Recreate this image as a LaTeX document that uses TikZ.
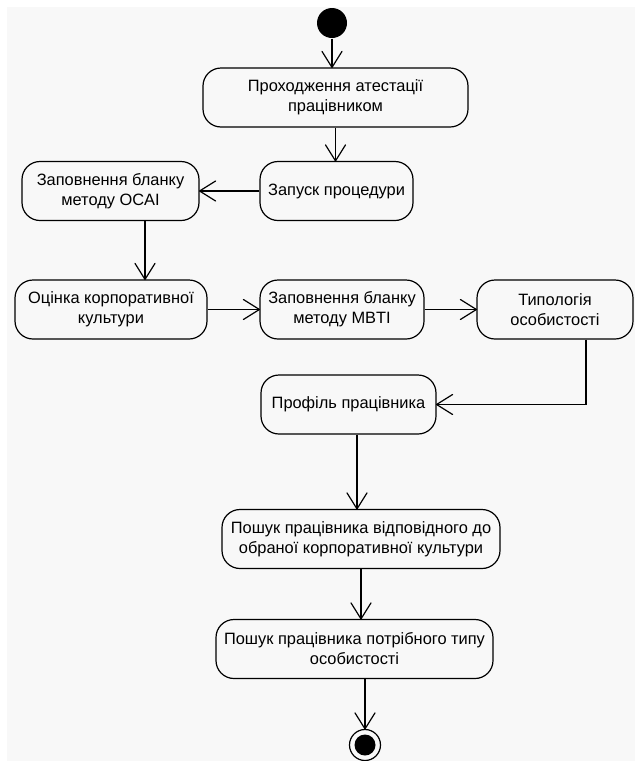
\documentclass[tikz,border=0pt]{standalone}
\usepackage{fontspec}
\setmainfont{Liberation Sans}
\usetikzlibrary{arrows.meta}
\definecolor{bggray}{HTML}{F8F8F8}

% open V arrow tip as in UML activity diagrams
\pgfdeclarearrow{
  name = OpenV,
  defaults = {length = 16pt, width = 20pt, line width = +0pt 1},
  setup code = {
    \pgfarrowssettipend{0pt}
    \pgfarrowssetlineend{-0.8pt}
    \pgfarrowssetbackend{-\pgfarrowlength}
    \pgfarrowshullpoint{0pt}{0pt}
    \pgfarrowsupperhullpoint{-\pgfarrowlength}{.5\pgfarrowwidth}
    \pgfarrowssavethe\pgfarrowlength
    \pgfarrowssavethe\pgfarrowwidth
    \pgfarrowssavethe\pgfarrowlinewidth
  },
  drawing code = {
    \pgfsetdash{}{+0pt}
    \pgfsetroundcap
    \pgfsetroundjoin
    \pgfsetlinewidth{\pgfarrowlinewidth}
    \pgfpathmoveto{\pgfqpoint{-\pgfarrowlength}{.5\pgfarrowwidth}}
    \pgfpathlineto{\pgfpointorigin}
    \pgfpathlineto{\pgfqpoint{-\pgfarrowlength}{-.5\pgfarrowwidth}}
    \pgfusepathqstroke
  },
  parameters = {\the\pgfarrowlength,\the\pgfarrowwidth,\the\pgfarrowlinewidth}
}

\begin{document}
\begin{tikzpicture}[x=1pt,y=-1pt,->,>=OpenV,line width=1.2pt,
  activity/.style={draw,rounded corners=18pt,minimum height=59pt,align=center,inner sep=0pt,font=\fontsize{16.4}{20}\selectfont},
  startstate/.style={circle,fill=black,minimum size=30pt,inner sep=0pt},
  endstate/.style={circle,draw,minimum size=31pt,inner sep=0pt,path picture={\fill[black] (path picture bounding box.center) circle (10.5pt);}}]
\useasboundingbox (0,0) rectangle (635,761);
\fill[bggray,-] (7,7) rectangle (635,761);
\node[startstate] (start) at (332,23) {};
\node[activity,minimum width=265pt] (attest) at (335.5,97.5) {Проходження атестації\\працівником};
\node[activity,minimum width=153pt] (launch) at (336.5,191) {Запуск процедури};
\node[activity,minimum width=177pt] (ocai) at (110.5,191) {Заповнення бланку\\методу OCAI};
\node[activity,minimum width=192pt] (culture) at (111,309.5) {Оцінка корпоративної\\культури};
\node[activity,minimum width=164pt] (mbti) at (342,309.5) {Заповнення бланку\\методу MBTI};
\node[activity,minimum width=156pt] (typology) at (555,309.5) {Типологія\\особистості};
\node[activity,minimum width=175pt] (profile) at (348.5,404.5) {Профіль працівника};
\node[activity,minimum width=278pt] (searchcult) at (361,539) {Пошук працівника відповідного до\\обраної корпоративної культури};
\node[activity,minimum width=277pt] (searchtype) at (354.5,649) {Пошук працівника потрібного типу\\особистості};
\node[endstate] (end) at (365,745) {};
% transitions
\draw (start) -- (start |- attest.north);
\draw (attest.south) -- (attest.south |- launch.north);
\draw (launch) -- (ocai);
\draw ([xshift=34.5pt]ocai.south) -- ([xshift=34.5pt]ocai.south |- culture.north);
\draw (culture) -- (mbti);
\draw (mbti) -- (typology);
\draw ([xshift=31pt]typology.south) |- (profile.east);
\draw ([xshift=8.5pt]profile.south) -- ([xshift=8.5pt]profile.south |- searchcult.north);
\draw (searchcult.south) -- (searchcult.south |- searchtype.north);
\draw (end |- searchtype.south) -- (end);
\end{tikzpicture}
\end{document}
